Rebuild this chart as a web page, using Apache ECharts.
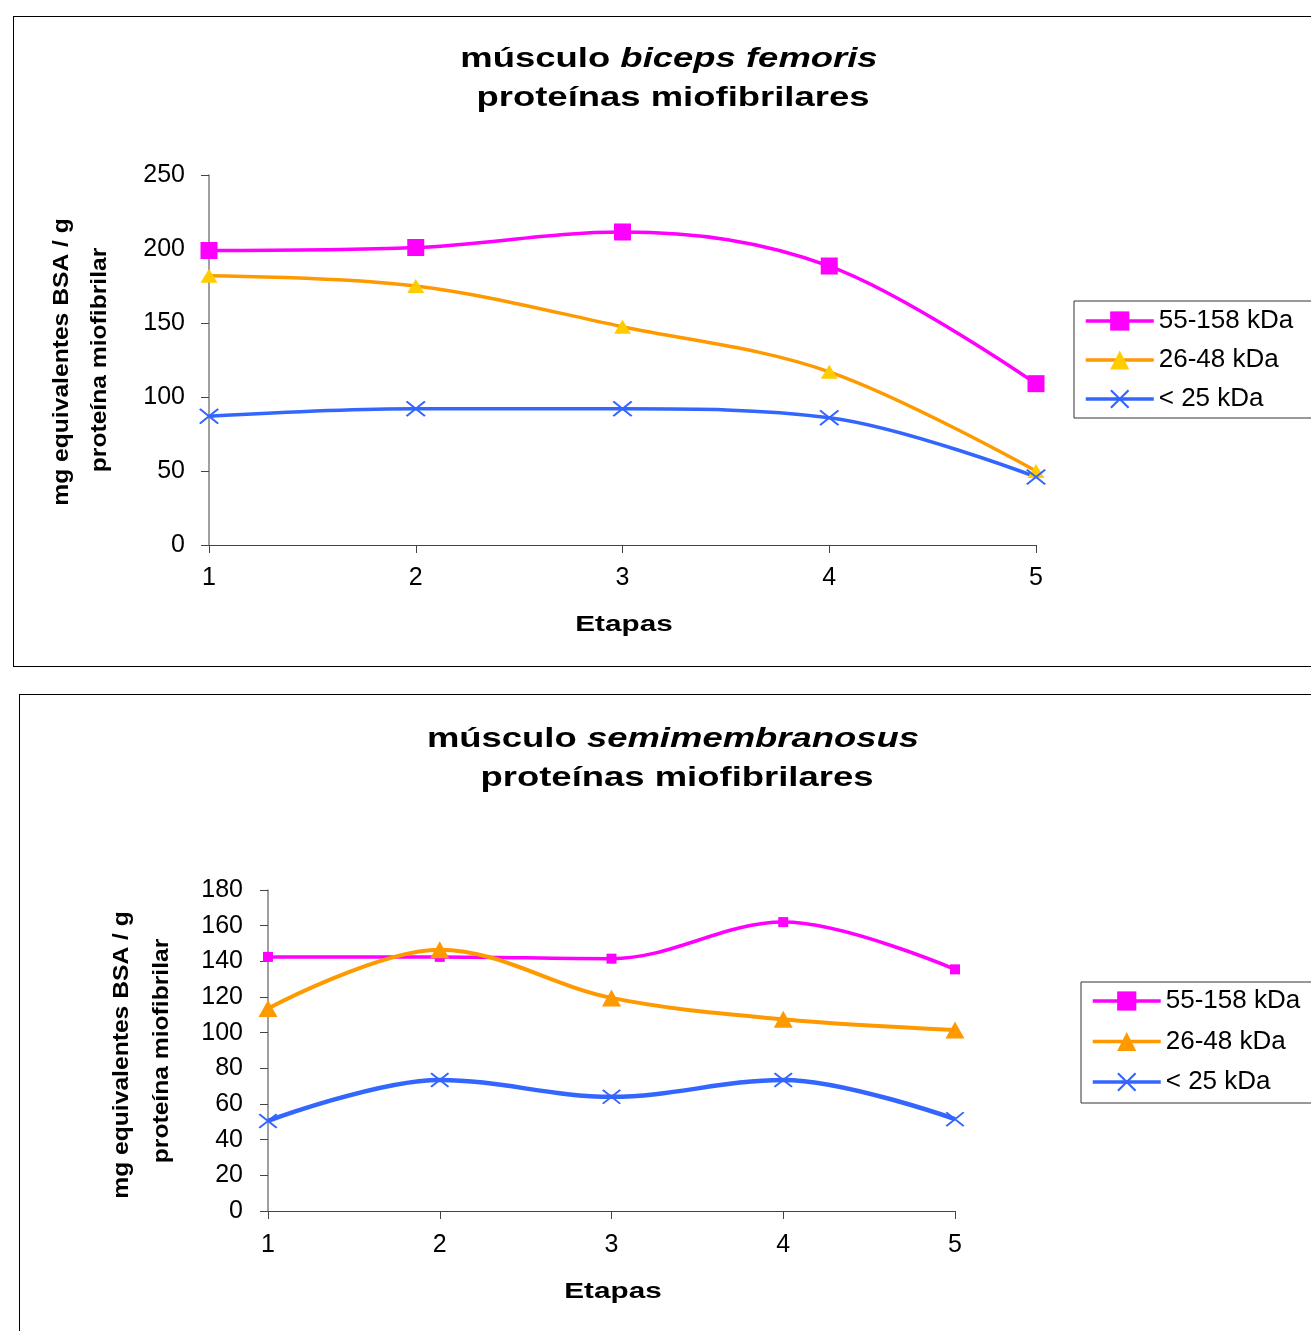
<!DOCTYPE html>
<html>
<head>
<meta charset="utf-8">
<script src="https://cdn.jsdelivr.net/npm/echarts@6/dist/echarts.min.js"></script>
<style>
  html, body { margin: 0; padding: 0; background: #fff; overflow: hidden; width: 1311px; height: 1331px; }
  .box { position: absolute; border: 1px solid #000; background: #fff; }
  #c1 { left: 13px; top: 16px; width: 1330px; height: 649px; }
  #c2 { left: 19px; top: 694px; width: 1330px; height: 700px; }
</style>
</head>
<body>
<div id="c1" class="box"></div>
<div id="c2" class="box"></div>
<script>
// ---- data ----
const etapas = [1, 2, 3, 4, 5];
const seriesNames = ['55-158 kDa', '26-48 kDa', '< 25 kDa'];
// músculo biceps femoris
const bf_55_158 = [199, 201, 211.5, 188.5, 109];
const bf_26_48  = [182, 175, 147.5, 117, 50];
const bf_lt25   = [87, 92, 92, 86, 46];
// músculo semimembranosus
const sm_55_158 = [142.5, 142.5, 141.5, 162, 135.5];
const sm_26_48  = [113.5, 146.5, 119.5, 107.5, 101.5];
const sm_lt25   = [50.5, 73.5, 64, 73.5, 51.5];
// axis ticks
const yTicks1 = { min: 0, max: 250, interval: 50 };
const yTicks2 = { min: 0, max: 180, interval: 20 };

const FONT = '"Liberation Sans", Arial, sans-serif';
const X_PATH = 'path://M0,1.6 L1.6,0 L20,18.4 L18.4,20 Z M18.4,0 L20,1.6 L1.6,20 L0,18.4 Z';
const pairs = vals => etapas.map((e, i) => [e, vals[i]]);

function titleGraphics(o, italicWord) {
  const sx = 1.35;
  return [
    { type: 'text', x: o.t1[0], y: o.t1[1], scaleX: sx,
      style: { text: '{a|músculo }{b|' + italicWord + '}', align: 'center', verticalAlign: 'middle',
        rich: { a: { fontFamily: FONT, fontSize: 27, fontWeight: 'bold', fill: '#000' },
                b: { fontFamily: FONT, fontSize: 27, fontWeight: 'bold', fontStyle: 'italic', fill: '#000' } } } },
    { type: 'text', x: o.t2[0], y: o.t2[1], scaleX: sx,
      style: { text: 'proteínas miofibrilares', align: 'center', verticalAlign: 'middle',
        fontFamily: FONT, fontSize: 27, fontWeight: 'bold', fill: '#000' } },
    { type: 'text', x: o.n1[0], y: o.n1[1], rotation: Math.PI / 2, scaleX: 1.12,
      style: { text: 'mg equivalentes BSA / g', align: 'center', verticalAlign: 'middle',
        fontFamily: FONT, fontSize: 22, fontWeight: 'bold', fill: '#000' } },
    { type: 'text', x: o.n2[0], y: o.n2[1], rotation: Math.PI / 2, scaleX: 1.12,
      style: { text: 'proteína miofibrilar', align: 'center', verticalAlign: 'middle',
        fontFamily: FONT, fontSize: 22, fontWeight: 'bold', fill: '#000' } },
    { type: 'text', x: o.et[0], y: o.et[1], scaleX: 1.35,
      style: { text: 'Etapas', align: 'center', verticalAlign: 'middle',
        fontFamily: FONT, fontSize: 22, fontWeight: 'bold', fill: '#000' } }
  ];
}

function axes(grid, yt, xMargin, yMargin) {
  return {
    grid: Object.assign({ containLabel: false }, grid),
    xAxis: {
      type: 'value', min: 1, max: 5, interval: 1,
      axisLine: { show: true, onZero: false, lineStyle: { color: '#444', width: 1 } },
      axisTick: { show: true, length: 8, lineStyle: { color: '#444' } },
      axisLabel: { margin: xMargin, fontFamily: FONT, fontSize: 25, color: '#000' },
      splitLine: { show: false }
    },
    yAxis: {
      type: 'value', min: yt.min, max: yt.max, interval: yt.interval,
      axisLine: { show: true, lineStyle: { color: '#808080', width: 1.5 } },
      axisTick: { show: true, length: 8, lineStyle: { color: '#444' } },
      axisLabel: { margin: yMargin, fontFamily: FONT, fontSize: 25, color: '#000' },
      splitLine: { show: false }
    }
  };
}

function legend(left, top, pad, gap) {
  return {
    orient: 'vertical', left: left, top: top,
    padding: pad, itemGap: gap, itemWidth: 68, itemHeight: 24,
    borderColor: '#333', borderWidth: 1, backgroundColor: '#fff',
    lineStyle: { width: 3.5 },
    textStyle: { fontFamily: FONT, fontSize: 26, color: '#000', lineHeight: 26 },
    data: seriesNames
  };
}

// ---- chart 1 ----
const ch1 = echarts.init(document.getElementById('c1'), null, { renderer: 'canvas' });
const o1 = Object.assign(axes({ left: 195, top: 158, width: 827, height: 370 }, yTicks1, 21, 24), {
  animation: false,
  legend: legend(1060, 284, [7, 60, 6, 10], 13),
  graphic: titleGraphics({ t1: [655, 43], t2: [659, 82], n1: [48, 345], n2: [86, 343], et: [610, 608] }, 'biceps femoris'),
  series: [
    { name: seriesNames[0], type: 'line', smooth: 0.35, data: pairs(bf_55_158),
      symbol: 'rect', symbolSize: 17,
      itemStyle: { color: '#FF00FF' }, lineStyle: { color: '#FF00FF', width: 3.5 } },
    { name: seriesNames[1], type: 'line', smooth: 0.35, data: pairs(bf_26_48),
      symbol: 'triangle', symbolSize: [17, 14],
      itemStyle: { color: '#FFCC00' }, lineStyle: { color: '#FF9900', width: 3.5 } },
    { name: seriesNames[2], type: 'line', smooth: 0.35, data: pairs(bf_lt25),
      symbol: X_PATH, symbolSize: [20, 16],
      itemStyle: { color: '#3366FF' }, lineStyle: { color: '#3366FF', width: 3.5 } }
  ]
});
ch1.setOption(o1);

// ---- chart 2 ----
const ch2 = echarts.init(document.getElementById('c2'), null, { renderer: 'canvas' });
const o2 = Object.assign(axes({ left: 248, top: 195, width: 687, height: 321 }, yTicks2, 22, 25), {
  animation: false,
  legend: legend(1061, 287, [6, 60, 8, 10], 14.5),
  graphic: titleGraphics({ t1: [653, 45], t2: [657, 84], n1: [102, 360], n2: [142, 356], et: [593, 597] }, 'semimembranosus'),
  series: [
    { name: seriesNames[0], type: 'line', smooth: 0.35, data: pairs(sm_55_158),
      symbol: 'rect', symbolSize: 10,
      itemStyle: { color: '#FF00FF' }, lineStyle: { color: '#FF00FF', width: 3.5 } },
    { name: seriesNames[1], type: 'line', smooth: 0.35, data: pairs(sm_26_48),
      symbol: 'triangle', symbolSize: [19, 17],
      itemStyle: { color: '#FF9900' }, lineStyle: { color: '#FF9900', width: 4 } },
    { name: seriesNames[2], type: 'line', smooth: 0.35, data: pairs(sm_lt25),
      symbol: X_PATH, symbolSize: [19, 15],
      itemStyle: { color: '#3366FF' }, lineStyle: { color: '#3366FF', width: 4.5 } }
  ]
});
ch2.setOption(o2);
</script>
</body>
</html>
